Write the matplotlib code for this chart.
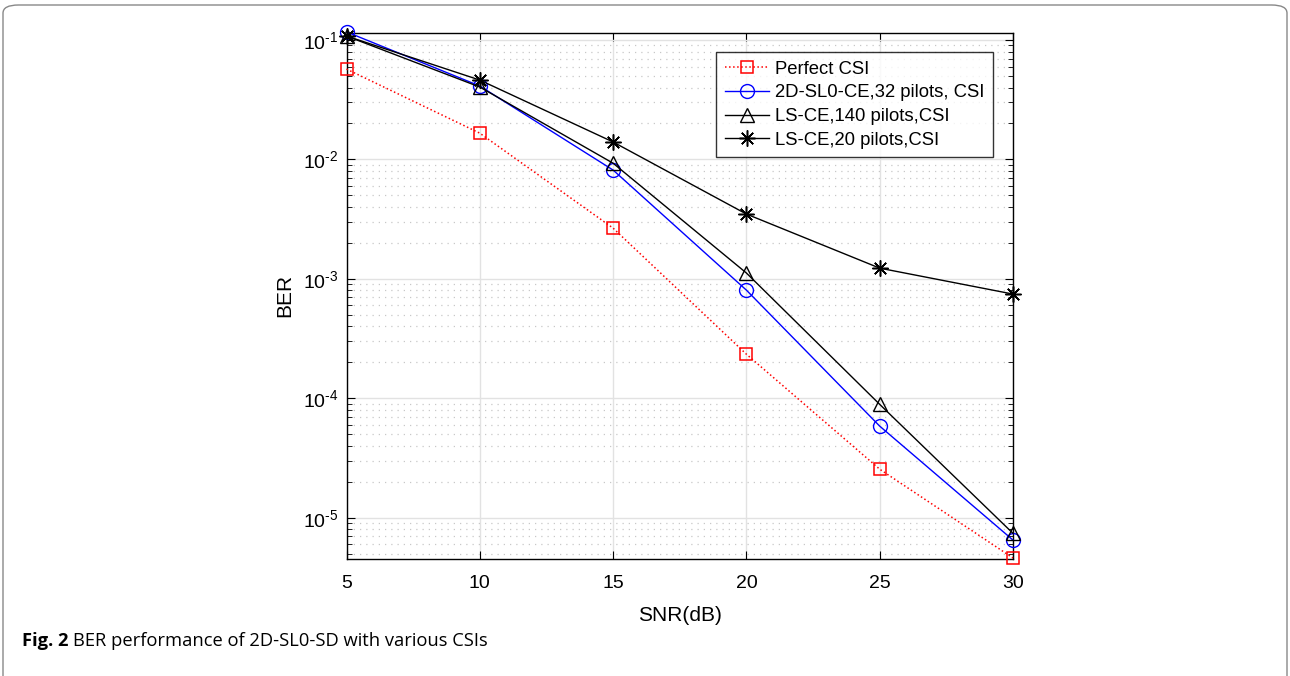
import numpy as np
import matplotlib
matplotlib.use("Agg")
import matplotlib.pyplot as plt
from matplotlib.patches import FancyBboxPatch
from matplotlib.ticker import LogLocator, NullFormatter, FuncFormatter

plt.rcParams['font.family'] = ['Liberation Sans', 'DejaVu Sans']
plt.rcParams['mathtext.fontset'] = 'custom'
plt.rcParams['mathtext.rm'] = 'Liberation Sans'
plt.rcParams['mathtext.it'] = 'Liberation Sans:italic'
plt.rcParams['mathtext.bf'] = 'Liberation Sans:bold'

snr = [5, 10, 15, 20, 25, 30]
ber_perfect = [0.0571, 0.0166, 0.00266, 2.34e-4, 2.55e-5, 4.6e-6]
ber_sl0 = [0.117, 0.0412, 0.00815, 8.05e-4, 5.85e-5, 6.5e-6]
ber_ls140 = [0.108, 0.0404, 0.0093, 1.12e-3, 8.9e-5, 7.4e-6]
ber_ls20 = [0.108, 0.0462, 0.014, 0.00349, 0.00123, 7.46e-4]

labels = ['Perfect CSI', '2D-SL0-CE,32 pilots, CSI',
          'LS-CE,140 pilots,CSI', 'LS-CE,20 pilots,CSI']

fig = plt.figure(figsize=(12.9, 6.76), dpi=100)
ax = fig.add_axes([346.5/1290, 1-558.7/676, (1013-346.5)/1290, (558.7-32.5)/676])

ax.plot(snr, ber_perfect, ':', color='red', marker='s', ms=8.5, mfc='none',
        mew=1.1, lw=1.1, label=labels[0], clip_on=False, zorder=3)
ax.plot(snr, ber_sl0, '-', color='blue', marker='o', ms=10, mfc='none',
        mew=1.0, lw=1.0, label=labels[1], clip_on=False, zorder=3)
ax.plot(snr, ber_ls140, '-', color='black', marker='^', ms=10.5, mfc='none',
        mew=1.0, lw=1.0, label=labels[2], clip_on=False, zorder=3)
ax.plot(snr, ber_ls20, '-', color='black', marker=(8, 2, 0), ms=11.5, mfc='none',
        mew=1.1, lw=1.0, label=labels[3], clip_on=False, zorder=3)

ax.set_yscale('log')
ax.set_xlim(5, 30)
ax.set_ylim(4.54e-6, 0.1156)
ax.set_xticks(snr)
ax.yaxis.set_major_locator(LogLocator(base=10, numticks=10))
ax.yaxis.set_major_formatter(FuncFormatter(
    lambda v, p: r'$\mathregular{10^{\text{-}%d}}$' % int(round(-np.log10(v)))))
ax.yaxis.set_minor_locator(LogLocator(base=10, subs=np.arange(2, 10), numticks=20))
ax.yaxis.set_minor_formatter(NullFormatter())

ax.grid(True, which='major', color='#e2e2e2', lw=1.0, ls='-')
ax.grid(True, which='minor', axis='y', color='#c8c8c8', lw=0.9, ls=(0, (1, 4)))
ax.set_axisbelow(True)

ax.tick_params(which='both', direction='in', top=True, right=True,
               labelsize=14, colors='black')
ax.tick_params(which='major', length=6)
ax.tick_params(which='minor', length=3.5)
ax.tick_params(axis='x', pad=12)
ax.tick_params(axis='y', pad=6)
for s in ax.spines.values():
    s.set_linewidth(1.0)

ax.set_xlabel('SNR(dB)', fontsize=15, labelpad=10)
ax.set_ylabel('BER', fontsize=15, labelpad=6)

leg = ax.legend(loc='upper right', bbox_to_anchor=(0.97, 0.962), fontsize=13.3,
                frameon=True, fancybox=False, edgecolor='black',
                borderpad=0.45, handlelength=2.4, handletextpad=0.35,
                labelspacing=0.36, borderaxespad=0)
leg.get_frame().set_linewidth(1.0)

box = FancyBboxPatch((3/1290, -0.05), 1284/1290, 1.04 - 5/676 + 0.01,
                     boxstyle='round,pad=0,rounding_size=0.012',
                     transform=fig.transFigure, fill=False,
                     edgecolor='#888888', lw=1.0, clip_on=False)
fig.patches.append(box)

t1 = fig.text(22/1290, 1-641/676, 'Fig. 2', fontsize=13.2, fontweight='bold',
              family=['Open Sans', 'DejaVu Sans'], va='center')
ax.annotate('BER performance of 2D-SL0-SD with various CSIs',
            xy=(1, 0.5), xycoords=t1, xytext=(3.5, 0), textcoords='offset points',
            fontsize=13.2, family=['Open Sans', 'DejaVu Sans'],
            va='center', ha='left', annotation_clip=False)

fig.savefig('out.png', dpi=100)
